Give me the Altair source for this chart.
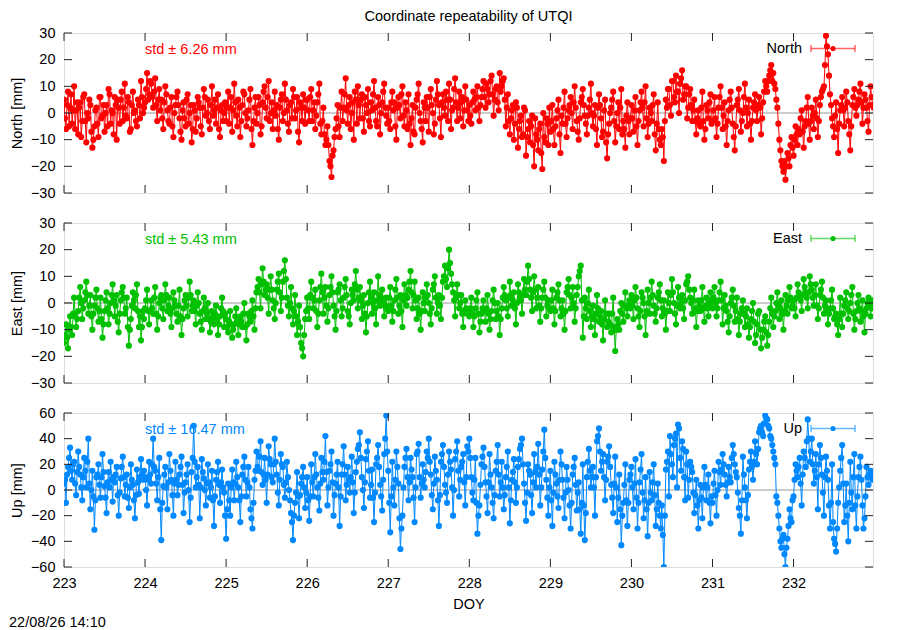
import altair as alt
import pandas as pd

title_text = "Coordinate repeatability of UTQI"
stamp_text = "22/08/26 14:10"
days = [223, 224, 225, 226, 227, 228, 229, 230, 231, 232]

# samples at day + i/40
north_by_day = [
    [5, -6, 8, 2, -4, 10, 1, -8, 4, -3, 7, -11, -2, 3, -13, -5, 2, -9, 6, -1, -7, 3, 9, -4, 0, 6, -10, 2, 5, -3, 11, -2, 4, -6, 8, 1, -5, 3, 12, 0],
    [4, 15, 7, 11, 2, 13, -3, 9, 5, -6, 10, 1, -4, 6, -9, 3, 8, -2, -10, 4, -5, 7, 0, -11, 3, -7, 6, 2, -8, 9, -1, 5, -6, 10, 1, -4, 7, -9, 3, 0],
    [-3, 8, 2, -7, 11, -1, 5, -9, 3, 7, -5, 1, 9, -12, 2, -4, 6, -8, 4, 10, -2, 12, 0, -6, 8, 3, -10, 5, -3, 11, 1, -7, 4, 9, -2, 6, -11, 2, 7, -4],
    [5, -3, 9, 1, -6, 4, 11, -8, 2, -12, -5, -18, -24, -14, -6, 3, -9, 8, 2, 13, -4, 6, 0, -10, 5, 10, -2, 7, -7, 3, 9, -5, 1, 12, -3, 6, -8, 4, 11, -1],
    [2, -6, 8, 4, -10, 6, -2, 10, -5, 1, 7, -12, 3, -8, 5, 11, -3, -11, 2, 6, -7, 9, 0, -4, 12, 3, -9, 7, -1, 5, 11, -6, 2, 13, -3, 8, 4, -5, 10, 1],
    [3, -4, 8, 1, 10, -3, 6, 12, 2, 9, 7, 14, -1, 9, 4, 15, 10, 13, -5, 7, -8, 1, -10, 4, -13, -3, -9, 2, -16, -6, -11, -1, -20, -8, -14, -4, -21, -9, -2, -12],
    [-7, 3, -12, -2, 5, -15, -4, 8, -9, 1, 6, -6, 10, -3, -10, 4, 9, -1, -8, 2, 11, -5, 3, -12, 7, -2, -7, 5, -17, -4, 2, 8, -11, 0, -6, 9, -3, -13, 4, -8],
    [3, -7, 6, -12, 1, 8, -5, 10, -9, 2, -3, 7, -14, 4, -10, -6, -18, 5, 9, 3, 12, 6, 14, 8, 11, 16, 7, 10, 2, 9, -3, 5, -8, 1, -5, 8, -10, 3, -2, 7],
    [-3, 6, -9, 2, 10, -6, 4, -12, 1, 8, -4, -14, 3, 9, -7, 0, 11, -5, 5, -10, 2, 7, -3, 6, -8, 4, 12, 8, 14, 18, 15, 9, 2, -10, -18, -22, -25, -15, -20, -9],
    [-16, -5, -12, -8, 1, -13, -3, 6, -10, 2, -6, 5, -9, 3, 8, 10, 29, 22, 7, -2, -9, 4, -15, 1, 6, -5, 8, -3, -14, 3, 9, -1, 5, 11, -4, 7, 2, -7, 10, 3],
]
# samples at day + (i + 0.5)/40
north_mid_by_day = [
    [-2, 3, -5, 7, 1, -6, 4, 2, -9, 6, -3, 0, 5, -7, -10, 1, -4, 6, -2, 3, 0, -5, 7, 1, -8, 3, 5, -4, 8, 2, -1, 6, -7, 3, 0, -3, 5, -2, 6, 2],
    [9, 5, 12, 6, 8, 3, 5, 1, -2, 4, 7, -3, 2, -5, 0, 6, 3, -7, 1, -2, 5, -4, 3, -6, 1, -2, 4, -5, 2, 6, 0, -3, 3, -1, 5, 2, -6, 1, -3, 4],
    [2, -4, 6, 1, 4, -5, 2, -3, 8, 0, -2, 5, -6, -3, 6, 0, 3, -5, 8, 2, 6, -3, 4, 1, -1, -6, 2, 7, 0, 5, -4, 3, -2, 6, 1, -7, 4, -3, 2, 5],
    [1, 6, -3, 4, -1, 7, -4, -3, -8, -10, -12, -20, -16, -9, -2, -5, 2, -3, 7, 1, 3, -6, 4, 8, -4, 3, 5, -2, 6, 0, -3, 4, 7, 2, -5, 3, 0, 8, 2, -4],
    [-3, 4, 1, -5, 2, 3, 7, -1, 4, -6, -4, -2, -7, 2, 7, 0, -6, 4, -3, 2, 6, 3, -8, 5, 7, -2, 4, 2, 8, -3, 5, 1, 9, 4, 2, -2, 6, 1, 5, -3],
    [-1, 4, 5, 6, 2, 3, 9, 6, 11, 4, 12, 7, 5, 10, 1, 8, 12, 5, 2, -3, -2, 3, -4, 2, -6, -1, -8, 1, -9, -3, -5, -12, -2, -10, -6, -15, 0, -11, -4, 2],
    [-3, -6, -5, 1, -8, -1, 2, -4, -2, 3, 0, 4, 2, -7, -2, 6, 3, -4, -1, 5, 0, -1, -6, 2, 3, -9, 1, -11, -8, 0, 5, -3, -5, 4, 2, -8, -6, -1, -3, -2],
    [-2, 1, -5, -3, 4, 2, 4, -2, -4, 0, 3, -8, -4, -6, -12, -9, -3, 2, 9, -1, 12, 4, 8, 0, 13, 5, 10, -2, 7, 3, 1, -3, -2, -4, 2, -3, -6, 1, 4, -4],
    [1, -2, -4, 6, 2, -1, -5, -3, 5, 2, -9, -5, 5, 1, -3, 6, 2, 0, -4, -3, 4, 1, 3, 2, -2, 8, 10, 12, 16, 12, 11, 5, -4, -14, -20, -18, -20, -17, -12, -13],
    [-10, -8, -6, -2, -7, -5, 2, -4, -3, -1, 0, -2, -3, 6, 9, 18, 25, 14, 3, -5, -1, -6, -4, 3, 1, 2, 4, -8, -5, 6, 2, 3, 8, 4, 2, 5, -3, 3, 6, 2],
]

east_by_day = [
    [-15, -8, -17, -5, -12, 2, -9, -3, 6, -6, 1, 8, -4, 3, -10, -1, 5, -7, 2, -13, -3, 4, -8, 0, 7, -5, 3, -11, 1, 6, -4, 2, -16, -6, 4, -2, 7, -9, -14, -3],
    [-2, 5, -8, 1, -4, 6, -10, 0, 3, -6, 7, -3, 2, -9, 4, -1, -7, 5, -12, -2, 3, -5, 8, -3, 1, -8, 4, -4, -10, 2, -6, 0, -11, -3, -8, -1, -12, -5, 2, -9],
    [-6, -11, -3, -13, -8, -2, -12, -5, -9, 0, -14, -4, -7, 1, -10, 4, 9, -2, 13, 3, 7, -4, 10, 1, -6, 5, 11, -3, 8, 16, 2, -5, 6, -8, 3, -12, -1, -15, -20, -6],
    [2, -6, 8, -2, 5, -9, 1, 11, -4, 6, -7, 3, 10, -1, -10, 4, 7, -5, 2, 9, -3, -8, 5, 1, 12, -2, 6, -6, 3, -11, 0, 8, -4, 4, -8, 10, -1, 5, -5, 2],
    [-3, 6, -7, 1, 9, -4, 3, -9, 7, -1, 5, 12, -2, 8, -6, 2, -10, 4, -3, 7, 0, -8, 5, 10, -4, 3, -6, 8, 14, 6, 20, 11, 4, -5, 7, -2, 3, -9, 1, -4],
    [-5, 2, -9, -2, 4, -11, -4, 1, -7, 3, -10, -3, 5, -6, 0, -12, -2, 6, 1, -5, 8, -1, 4, -8, 7, 2, -4, 9, 3, 14, 5, -3, 10, -2, 6, -7, 2, 8, -5, 1],
    [-3, 5, -8, 2, 7, -5, 1, -10, 4, 9, -2, 6, -7, 3, 10, 14, -13, 2, -6, 5, -9, -1, -12, 3, -7, -3, -14, 1, -9, -4, -11, 2, -18, -6, -10, 0, -7, 4, -5, 1],
    [3, -6, 6, -2, -9, 4, 0, -12, 5, -4, 8, -1, -7, 2, 7, -5, 1, -10, 4, -3, 9, 0, -8, 6, -2, 3, -6, 7, 10, 2, -4, 5, -9, 1, -3, 6, -7, 2, -5, 4],
    [-2, 6, -5, 1, 8, -8, 3, -3, -11, 0, 5, -7, 2, -12, -4, 1, -9, -2, -13, -6, 0, -15, -8, -3, -17, -10, -5, -16, -7, 2, -9, -3, 4, -6, 1, -10, 3, -4, 6, -2],
    [1, -5, 7, 2, -3, 9, 4, -2, 10, 5, -1, 7, -6, 3, 8, -4, 1, -8, -2, 5, -6, -4, -12, 2, -9, -1, 4, -6, 0, 6, -10, -3, 3, -7, 1, -11, -2, 2, -5, 1],
]
east_mid_by_day = [
    [-12, -13, -10, -9, -4, -5, -6, 2, 0, -2, 4, 3, -1, -5, -4, 2, -2, -3, -6, -8, 1, -2, -4, 3, 1, -1, -7, -4, 4, 2, -2, -9, -10, -1, 1, 3, -3, -5, -9, -6],
    [1, -3, -3, -2, 2, -4, -5, 2, -2, 1, 3, -1, -4, -2, 1, -4, -1, -5, -6, 1, -1, 2, 3, -1, -3, -1, 0, -7, -3, -2, -4, -6, -7, -5, -4, -6, -8, -2, -3, -4],
    [-9, -7, -8, -10, -5, -7, -8, -7, -4, -9, -8, -5, -3, -5, -2, 6, 4, 7, 8, 5, 2, 5, 5, -2, 0, 8, 4, 2, 12, 9, -1, 0, -2, -3, -5, -7, -9, -17, -12, -3],
    [-2, 3, 2, 1, -3, -4, 6, 4, 2, -1, -2, 6, 4, -5, -3, 5, 1, -2, 6, 3, -5, 0, 3, 7, 5, 2, 1, -1, -4, -5, 4, 2, 0, -2, 1, 3, 2, 0, -1, -2],
    [2, -1, -3, 5, 2, -1, -3, 1, 3, 2, 8, 4, 3, 1, -2, -4, -3, 0, 2, 3, -4, -2, 7, 2, 0, -1, 2, 10, 9, 13, 15, 7, 1, 2, 3, 0, -4, -3, -2, -3],
    [-2, -4, -5, 1, -4, -7, -2, -3, -2, -4, -6, 1, 0, -3, -5, -6, 2, 3, -2, 2, 3, 1, -2, 0, 4, 1, 3, 5, 8, 9, 2, 4, 5, 2, -1, -2, 5, 2, -1, -2],
    [1, -2, -3, 4, 1, -2, -4, -3, 6, 3, 2, 0, -2, 6, 12, 1, -5, -2, 0, -3, -5, -6, -4, -2, -5, -8, -6, -4, -7, -8, -4, -9, -10, -8, -3, -4, -1, -2, -1, -2],
    [-1, 1, 2, -5, -3, 2, -5, -3, 0, 2, 3, -4, -2, 4, 1, -2, -4, -3, 0, 3, 4, -4, -1, 2, 0, -2, 1, 8, 5, 0, 1, -2, -3, -1, 1, -2, -1, -2, 0, 1],
    [2, 0, -2, 4, 1, -2, -1, -7, -5, 2, -1, -3, -6, -7, -2, -4, -5, -8, -9, -3, -7, -12, -4, -10, -13, -7, -11, -12, -2, -4, -5, 0, -1, -2, -4, -3, -1, 1, 2, -1],
    [-2, 2, 4, 1, 3, 6, 2, 4, 7, 2, 3, -1, -2, 5, 2, -1, -3, -4, 1, -2, -5, -8, -6, -4, -4, 1, -2, -3, 3, -4, -6, 0, -2, -3, -5, -4, 0, -1, -2, -1],
]

up_by_day = [
    [5, -10, 18, 33, 8, 22, -4, 30, 12, -8, 25, 2, 40, -15, 15, -31, 10, 20, -6, 28, 3, -18, 14, 22, -9, 6, 18, -20, 9, 26, -5, 12, -14, 20, 4, -22, 16, -3, 24, 8],
    [10, -12, 22, 5, 40, 15, -8, 25, -39, 3, 18, -15, 28, 8, -20, 22, -4, 12, 26, -18, 6, 20, -25, 14, 50, 2, 18, -22, 24, 9, -12, 20, -6, 15, -28, 8, 22, -10, 16, -2],
    [-38, 5, -20, 16, -8, 22, 2, -25, 12, 26, -5, 18, -15, -30, 8, 30, 15, 38, 4, 25, -10, 34, 20, 6, 40, 12, -12, 28, 18, -6, 22, 0, -18, -39, -10, 14, -22, 5, 18, -14],
    [10, -24, 20, -5, 28, 2, -16, 25, 8, 42, -12, 15, 30, -20, 5, 22, -28, 12, 34, -8, 18, -2, 26, -18, 14, 32, 45, 10, -14, 24, 38, -6, 16, -25, 20, 35, 4, -16, 28, 58],
    [15, -33, 22, -12, 30, 5, -46, -20, 18, 32, -8, 25, 10, -25, 28, 36, -6, 20, 2, 30, 40, 12, -15, 26, 8, -28, 22, 35, 4, -10, 30, 16, -20, 24, 38, -5, 18, 28, -12, 34],
    [40, 10, -8, 25, -34, -12, 20, 33, 6, -18, 28, 2, -22, 15, 35, -5, 22, -15, 10, 30, -26, 8, 24, -10, 18, 32, 40, 5, -24, 20, 12, -18, 28, 2, 36, -12, 16, 47, 8, -20],
    [15, -28, 22, 5, -14, 30, 8, -22, 18, 0, -30, 12, 25, -16, 6, -34, 20, -39, 10, 32, 2, 18, -20, 38, 48, 15, 28, -8, 22, 34, 4, -18, 26, -25, 12, -43, -10, 20, -28, 8],
    [18, -15, 24, -30, 6, 28, -22, 10, -36, 14, -8, 20, -28, 5, -20, -12, -60, 16, 30, 42, 20, 35, 44, 51, 25, 38, 10, 30, -6, 22, 14, -18, 8, -30, 4, -22, 18, -8, 12, -26],
    [-10, 15, -20, 22, 4, 28, 12, -5, 18, 6, 35, 20, 10, -14, -34, 26, 2, -22, 16, 30, 8, 38, 20, 45, 50, 42, 58, 55, 48, 40, 30, 20, -10, -30, -45, -35, -60, -38, -15, -25],
    [-5, 20, 10, 25, -12, 30, 18, 55, 22, 40, 5, 28, -15, 35, 12, -20, 26, 8, -30, 20, -38, -48, -10, 15, 35, -25, 5, -40, 22, -15, 28, -30, 10, 26, -12, -22, 18, 4, 15, 8],
]
up_mid_by_day = [
    [8, 12, 25, 15, 20, 5, 14, 18, 2, 10, 15, 22, 5, 0, -5, -8, 12, 4, 10, 14, -6, 6, 2, 8, 10, 12, -4, -2, 18, 10, 4, -6, 2, 8, -8, -4, 6, 10, 12, 15],
    [0, 8, 12, 20, 18, 5, 10, -15, -10, 12, 2, 6, 15, -4, 5, 8, 4, 18, 4, -2, 12, 0, -6, 25, 22, 10, 4, 2, 14, 0, 5, 6, 2, -8, -5, 14, 4, 6, 2, -20],
    [-15, -8, 2, 6, 5, 10, -8, -5, 18, 8, 6, 2, -22, -10, 15, 18, 26, 14, 12, 8, 12, 24, 10, 20, 22, -2, 8, 20, 4, 6, 10, -8, -25, -20, -2, -5, -4, 10, 2, -2],
    [-8, -5, 6, 10, 12, -6, 5, 14, 22, 14, 2, 20, 6, -4, 12, 2, -5, 20, 12, 4, 8, 10, 6, -2, 22, 35, 25, 0, 6, 30, 15, 4, -6, -2, 25, 18, -5, 8, 40, 30],
    [-10, -5, 2, 8, 18, -22, -30, 2, 25, 10, 6, 16, -6, 2, 30, 10, 5, 8, 14, 25, 22, -4, 5, 15, -8, -4, 28, 18, -2, 12, 22, 2, 0, 30, 15, 8, 22, 6, 10, 30],
    [25, -2, 8, -10, -20, 4, 26, 18, -5, 6, 12, -10, -4, 22, 12, 6, 2, -4, 18, 2, -8, 14, 6, 2, 24, 35, 20, -10, -2, 15, -4, 6, 14, 18, 12, 2, 30, 25, -6, 2],
    [-8, -2, 12, -5, 8, 20, -6, -2, 8, -12, -10, 18, 4, -2, -15, -10, -12, -18, 22, 15, 10, 2, 10, 42, 30, 22, 10, 8, 26, 18, -6, 5, 2, -6, -15, -20, 4, -8, -10, 12],
    [2, 5, -6, -10, 16, -2, -8, -15, -10, -2, 6, -4, -15, -10, -30, -35, -20, 22, -5, 28, 10, 40, 2, 48, 15, 32, -8, 20, 8, 18, -2, -4, -12, -8, -6, 2, 4, 2, -10, -5],
    [5, -4, 0, 14, 16, 20, 4, 6, 10, 25, 28, 14, -2, -20, -8, 12, -8, -4, 22, 18, 22, 28, 32, 48, 45, 52, 56, 50, 42, 35, 25, -5, -20, -40, -38, -50, -45, -28, -22, -8],
    [8, 15, 18, 5, 12, 25, 38, 40, 30, 20, 15, 10, 20, 25, -2, 10, 15, -12, -10, -25, -42, -30, 2, 25, 5, -12, -20, -10, -2, 10, -12, -5, 18, 8, -30, -5, 10, 12, 10, 12],
]

ne_ticks = [-30, -20, -10, 0, 10, 20, 30]
up_ticks = [-60, -40, -20, 0, 20, 40, 60]
std_labels = ["std \u00b1 6.26 mm", "std \u00b1 5.43 mm", "std \u00b1 16.47 mm"]

FONT = "Liberation Sans"
FS = 14.5
W = 809
XDOM = [223, 232.98]


def series_df(by_day, mid_by_day):
    rows = []
    for d, vals, mids in zip(days, by_day, mid_by_day):
        for i, v in enumerate(vals):
            rows.append({"doy": d + i / 40.0, "val": v})
        for i, v in enumerate(mids):
            rows.append({"doy": d + (i + 0.5) / 40.0, "val": v})
    return pd.DataFrame(rows).sort_values("doy").reset_index(drop=True)


def panel(by_day, mid_by_day, color, ytitle, ydom, yticks, std_text, leg_label, H,
          bottom_axis, extra=None):
    xscale = alt.Scale(domain=XDOM, nice=False, zero=False)
    yscale = alt.Scale(domain=ydom, nice=False, zero=False)
    if bottom_axis:
        xaxis = alt.Axis(values=days, format="d", ticks=False, domain=False, grid=False,
                         labelPadding=9, labelFlush=False, labelOverlap=False,
                         labelFont=FONT, labelFontSize=FS, labelColor="black",
                         title="DOY", titlePadding=8, titleFont=FONT, titleFontSize=FS,
                         titleFontWeight="normal", titleColor="black")
    else:
        xaxis = None
    yaxis = alt.Axis(values=yticks, ticks=False, domain=False, grid=False,
                     labelPadding=9, labelOverlap=False,
                     labelFont=FONT, labelFontSize=FS, labelColor="black",
                     title=ytitle, titlePadding=6, titleFont=FONT, titleFontSize=FS,
                     titleFontWeight="normal", titleColor="black")

    X = alt.X("doy:Q", scale=xscale, axis=xaxis)
    Y = alt.Y("val:Q", scale=yscale, axis=yaxis)

    df = series_df(by_day, mid_by_day)
    base = alt.Chart(df)

    zero = alt.Chart(pd.DataFrame({"doy": [XDOM[0], XDOM[1]], "val": [0, 0]})).mark_line(
        color="#999999", strokeWidth=1).encode(x=X, y=Y)

    std = alt.Chart(pd.DataFrame({"t": [std_text]})).mark_text(
        align="left", baseline="middle", font=FONT, fontSize=FS, color=color
    ).encode(x=alt.value(81), y=alt.value(16.5), text="t:N")

    line = base.mark_line(color=color, strokeWidth=1, clip=True).encode(x=X, y=Y)
    pts = base.mark_point(filled=True, shape="circle", size=38, color=color, opacity=1,
                          clip=True).encode(x=X, y=Y)

    ytdf = pd.DataFrame({"val": yticks})
    xtdf = pd.DataFrame({"doy": days})
    tcol = "#222222"
    lt = alt.Chart(ytdf).mark_rule(color=tcol, strokeWidth=1).encode(
        y=Y, x=alt.value(0), x2=alt.value(8))
    rt = alt.Chart(ytdf).mark_rule(color=tcol, strokeWidth=1).encode(
        y=Y, x=alt.value(W - 8), x2=alt.value(W))
    bt = alt.Chart(xtdf).mark_rule(color=tcol, strokeWidth=1).encode(
        x=X, y=alt.value(H - 8), y2=alt.value(H))
    tt = alt.Chart(xtdf).mark_rule(color=tcol, strokeWidth=1).encode(
        x=X, y=alt.value(0), y2=alt.value(8))

    one = pd.DataFrame({"t": [leg_label]})
    ly = 15.5
    leg_text = alt.Chart(one).mark_text(
        align="right", baseline="middle", font=FONT, fontSize=FS, color="black"
    ).encode(x=alt.value(738), y=alt.value(ly), text="t:N")
    leg_bar = alt.Chart(one).mark_rule(color=color, strokeWidth=1.5, opacity=0.6).encode(
        x=alt.value(747), x2=alt.value(791), y=alt.value(ly))
    cap1 = alt.Chart(one).mark_rule(color=color, strokeWidth=1.5, opacity=0.6).encode(
        x=alt.value(747), y=alt.value(ly - 3.5), y2=alt.value(ly + 3.5))
    cap2 = alt.Chart(one).mark_rule(color=color, strokeWidth=1.5, opacity=0.6).encode(
        x=alt.value(791), y=alt.value(ly - 3.5), y2=alt.value(ly + 3.5))
    leg_pt = alt.Chart(one).mark_point(filled=True, shape="circle", size=26, color=color,
                                       opacity=1).encode(x=alt.value(769), y=alt.value(ly))

    layers = [zero, std, line, pts, lt, rt, bt, tt, leg_text, leg_bar, cap1, cap2, leg_pt]
    if extra is not None:
        layers += extra
    return alt.layer(*layers).properties(width=W, height=H)


title_mark = alt.Chart(pd.DataFrame({"t": [title_text]})).mark_text(
    align="center", baseline="middle", font=FONT, fontSize=FS, color="black"
).encode(x=alt.value(W / 2), y=alt.value(-16), text="t:N")

stamp_mark = alt.Chart(pd.DataFrame({"t": [stamp_text]})).mark_text(
    align="left", baseline="middle", font=FONT, fontSize=FS, color="black"
).encode(x=alt.value(-55), y=alt.value(210), text="t:N")

p_north = panel(north_by_day, north_mid_by_day, "#ff0000", "North [mm]", [-30, 30], ne_ticks,
                std_labels[0], "North", 160, False, extra=[title_mark])
p_east = panel(east_by_day, east_mid_by_day, "#00c000", "East [mm]", [-30, 30], ne_ticks,
               std_labels[1], "East", 160, False)
p_up = panel(up_by_day, up_mid_by_day, "#0088ff", "Up [mm]", [-60, 60], up_ticks,
             std_labels[2], "Up", 154, True, extra=[stamp_mark])

chart = alt.vconcat(p_north, p_east, p_up, spacing=30, bounds="flush").properties(
    padding={"left": 0, "top": 0, "right": 10, "bottom": 0},
).configure_view(
    stroke="black", strokeWidth=2
).configure(background="white")

chart.save("out.html", embed_options={"renderer": "svg", "actions": False})
